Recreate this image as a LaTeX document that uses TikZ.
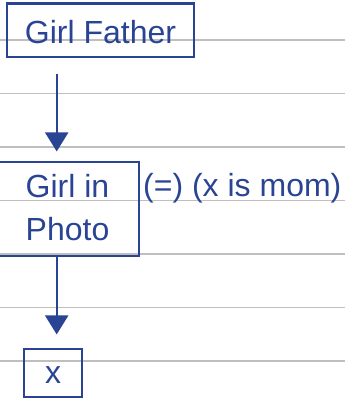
\documentclass[tikz,border=0pt]{standalone}
\usepackage{fontspec}
\setmainfont{Liberation Sans}
\usetikzlibrary{arrows.meta}
\definecolor{inkblue}{RGB}{42,68,148}

\begin{document}
\begin{tikzpicture}[
    >={Triangle[width=23pt,length=19pt]},
    x=1pt,
    y=-1pt,
    every node/.style={font=\fontsize{32}{43.4}\selectfont, text=inkblue},
    box/.style={draw=inkblue, line width=2.5pt, inner sep=0pt},
    rule/.style={black!25, line width=1.2pt},
    flow/.style={->, draw=inkblue, line width=2.2pt}
]
\useasboundingbox (0,0) rectangle (345,401);

% ruled lines
\foreach \k in {0,...,6}
  \draw[rule] (0,40+53.5*\k) -- (345,40+53.5*\k);

% boxes
\node[box, minimum width=187pt, minimum height=53.5pt, text height=27.5pt, text depth=0pt] (father) at (100.5,30.25) {Girl Father};
\node[box, align=center, minimum width=143pt, minimum height=94pt, text height=66.4pt, text depth=3pt] (photo) at (67.5,209) {Girl in\\Photo};
\node[box, minimum width=58pt, minimum height=48pt, text height=20.6pt, text depth=0pt] (xbox) at (53,373) {x};

% side note
\node[anchor=base west, inner sep=0pt] (note) at (143,196.5) {(=) (x is mom)};

% arrows
\coordinate (col) at (56.7,0);
\draw[flow, shorten <=15.7pt, shorten >=9.3pt] (father.south -| col) -- (photo.north -| col);
\draw[flow, shorten >=13.3pt] (photo.south -| col) -- (xbox.north -| col);

\end{tikzpicture}
\end{document}
